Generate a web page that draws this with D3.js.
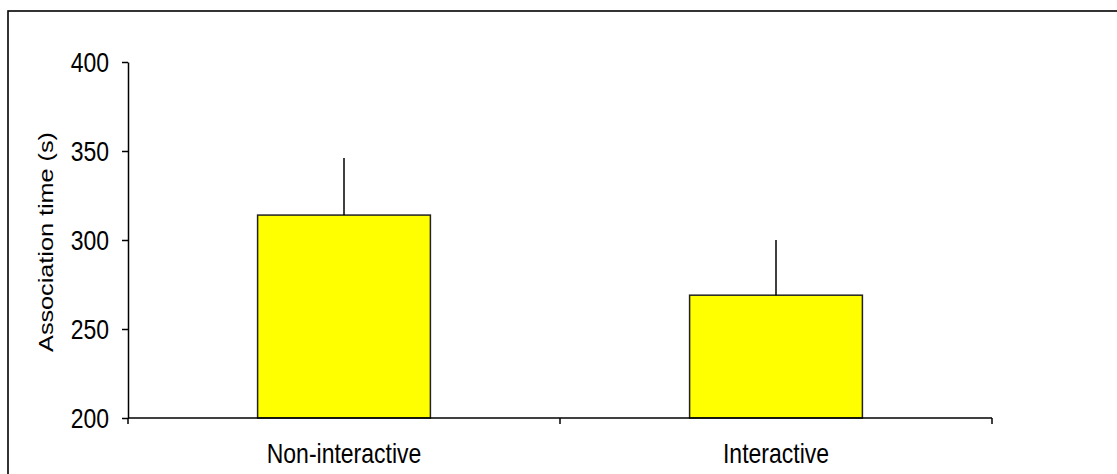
<!DOCTYPE html>
<html>
<head>
<meta charset="utf-8">
<script src="https://cdn.jsdelivr.net/npm/d3@7"></script>
<style>
  html, body { margin: 0; padding: 0; background: #fff; }
  svg { display: block; }
  text { font-family: "Liberation Sans", Arial, sans-serif; fill: #000; }
</style>
</head>
<body>
<svg id="chart" width="1117" height="474"></svg>
<script>
// Mean association time per condition, with the standard error drawn above each bar
const categories = ["Non-interactive", "Interactive"];
const means = [314, 269];
const errors = [32, 31];
const yTicks = [200, 250, 300, 350, 400];
const yTitle = "Association time (s)";

const svg = d3.select("#chart");
const stretch = 1.2; // text is drawn slightly tall and narrow
const textColor = "#2a2a2a";

// outer chart frame
svg.append("rect")
  .attr("x", 8).attr("y", 11)
  .attr("width", 1300).attr("height", 600)
  .attr("fill", "none").attr("stroke", "#000").attr("stroke-width", 1.6);

const x = d3.scaleBand()
  .domain(categories)
  .range([128, 992])
  .paddingInner(0.6)
  .paddingOuter(0.3);

const y = d3.scaleLinear().domain([200, 400]).range([418, 62]);

// bars
svg.append("g").selectAll("rect")
  .data(categories)
  .join("rect")
  .attr("x", d => x(d))
  .attr("width", x.bandwidth())
  .attr("y", (d, i) => y(means[i]))
  .attr("height", (d, i) => y(200) - y(means[i]))
  .attr("fill", "#ffff00")
  .attr("stroke", "#222")
  .attr("stroke-width", 1.5);

// error bars (upper half only, no caps)
svg.append("g").selectAll("line")
  .data(categories)
  .join("line")
  .attr("x1", d => x(d) + x.bandwidth() / 2)
  .attr("x2", d => x(d) + x.bandwidth() / 2)
  .attr("y1", (d, i) => y(means[i]))
  .attr("y2", (d, i) => y(means[i] + errors[i]))
  .attr("stroke", "#000")
  .attr("stroke-width", 1.5);

// y axis
const gy = svg.append("g")
  .attr("transform", "translate(128,0)")
  .call(d3.axisLeft(y).tickValues(yTicks).tickSize(6).tickPadding(13).tickSizeOuter(0));
gy.select(".domain").attr("stroke", "#000").attr("stroke-width", 1.5);
gy.selectAll(".tick line").attr("stroke", "#000").attr("stroke-width", 1.5);
gy.selectAll(".tick text")
  .attr("font-size", 23)
  .attr("font-family", "'Liberation Sans', Arial, sans-serif")
  .attr("fill", textColor)
  .attr("dy", "0.36em")
  .attr("transform", `scale(1,${stretch})`);

// x axis: baseline with ticks on the category boundaries
const gx = svg.append("g").attr("transform", `translate(0,${y(200)})`);
const bounds = d3.range(categories.length + 1).map(i => x.range()[0] + i * x.step());
gx.append("line")
  .attr("x1", x.range()[0]).attr("x2", x.range()[1])
  .attr("stroke", "#000").attr("stroke-width", 1.5);
gx.selectAll("line.bound")
  .data(bounds)
  .join("line")
  .attr("class", "bound")
  .attr("x1", d => d).attr("x2", d => d)
  .attr("y1", 0).attr("y2", 6)
  .attr("stroke", "#000").attr("stroke-width", 1.5);

// category labels through a band axis
const gl = svg.append("g")
  .attr("transform", `translate(0,${y(200)})`)
  .call(d3.axisBottom(x).tickSize(0).tickSizeOuter(0));
gl.select(".domain").remove();
gl.selectAll(".tick text")
  .attr("font-size", 23)
  .attr("font-family", "'Liberation Sans', Arial, sans-serif")
  .attr("fill", textColor)
  .attr("y", 37.5)
  .attr("dy", 0)
  .attr("transform", `scale(1,${stretch})`);

// y axis title
svg.append("text")
  .attr("transform", `translate(53,242) scale(1,${stretch}) rotate(-90)`)
  .attr("text-anchor", "middle")
  .attr("font-size", 21)
  .attr("fill", textColor)
  .text(yTitle);
</script>
</body>
</html>
